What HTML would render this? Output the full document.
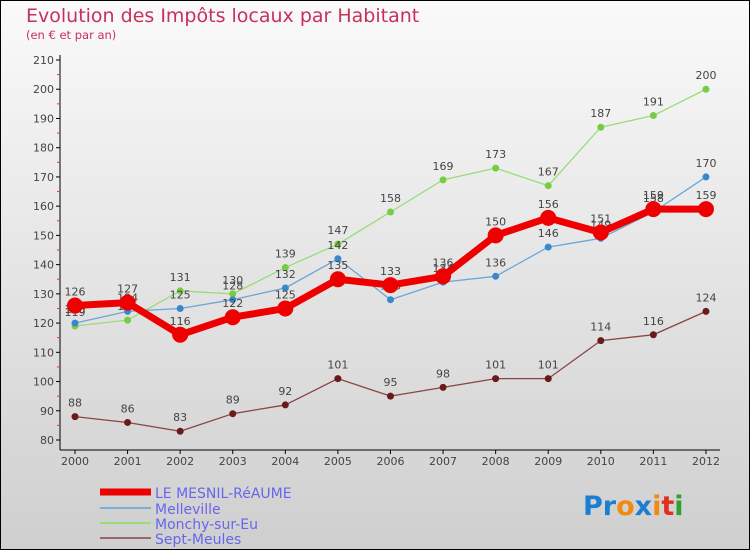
<!DOCTYPE html>
<html><head><meta charset="utf-8"><style>
body{margin:0;}
#c{width:750px;height:550px;position:relative;box-sizing:border-box;border:1px solid #000;background:linear-gradient(#fafafa,#cfcfcf);font-family:"DejaVu Sans","Liberation Sans",sans-serif;overflow:hidden}
</style></head><body>
<div id="c">
<svg id="s" width="750" height="550" style="position:absolute;left:-1px;top:-1px">
<text x="26" y="22" font-size="19" fill="#c8305a">Evolution des Impôts locaux par Habitant</text>
<text x="26" y="39" font-size="11.5" fill="#c8305a">(en € et par an)</text>
<g id="axes"></g><g id="series"></g>
<g>
<line x1="100" y1="492" x2="151" y2="492" stroke="#e00" stroke-width="7"/>
<line x1="100" y1="508" x2="151" y2="508" stroke="#7aaed6" stroke-width="2"/>
<line x1="100" y1="523" x2="151" y2="523" stroke="#99dd77" stroke-width="2"/>
<line x1="100" y1="538" x2="151" y2="538" stroke="#9a6666" stroke-width="2"/>
<text x="155" y="498" font-size="14" fill="#6666ee">LE MESNIL-RéAUME</text>
<text x="155" y="514" font-size="14" fill="#6666ee">Melleville</text>
<text x="155" y="529" font-size="14" fill="#6666ee">Monchy-sur-Eu</text>
<text x="155" y="544" font-size="14" fill="#6666ee">Sept-Meules</text>
</g>
<g font-size="27" font-weight="bold">
<text x="583" y="515"><tspan fill="#1a7fd0">Pr</tspan><tspan fill="#f08a10">o</tspan><tspan fill="#1a7fd0">x</tspan><tspan fill="#f08a10">i</tspan><tspan fill="#e03020">t</tspan><tspan fill="#30a030">i</tspan></text>
</g>
</svg>
</div>
<script>
const years=["2000","2001","2002","2003","2004","2005","2006","2007","2008","2009","2010","2011","2012"];
const mesnil=[126,127,116,122,125,135,133,136,150,156,151,159,159];
const melleville=[120,124,125,128,132,142,128,134,136,146,149,158,170];
const monchy=[119,121,131,130,139,147,158,169,173,167,187,191,200];
const septMeules=[88,86,83,89,92,101,95,98,101,101,114,116,124];
const yTicks=[80,90,100,110,120,130,140,150,160,170,180,190,200,210];
const NS="http://www.w3.org/2000/svg";
const X=i=>75+i*52.58;
const Y=v=>440-(v-80)*2.923;
function mk(tag,at,parent){const e=document.createElementNS(NS,tag);for(const k in at)e.setAttribute(k,at[k]);parent.appendChild(e);return e;}
const ax=document.getElementById('axes');
let l=mk('line',{x1:60,y1:55,x2:60,y2:450,stroke:'#000','stroke-width':1},ax);


l=mk('line',{x1:60,y1:450,x2:720,y2:450,stroke:'#000','stroke-width':1},ax);


yTicks.forEach(v=>{
 mk('line',{x1:56,y1:Y(v),x2:60,y2:Y(v),stroke:'#000'},ax);
 if(v<210) mk('line',{x1:57,y1:Y(v+5),x2:60,y2:Y(v+5),stroke:'#e33'},ax);
 const t=mk('text',{x:54,y:Y(v)+4,'font-size':11,fill:'#444','text-anchor':'end'},ax);t.textContent=v;
 
 
});
years.forEach((y,i)=>{
 mk('line',{x1:X(i),y1:450,x2:X(i),y2:454,stroke:'#000'},ax);
 const t=mk('text',{x:X(i),y:465,'font-size':11,fill:'#444','text-anchor':'middle'},ax);t.textContent=y;
 
 
});
const sg=document.getElementById('series');
function series(data,name,color,dot,w,r){
 const g=mk('g',{},sg);
 
 
 mk('polyline',{points:data.map((v,i)=>X(i)+','+Y(v)).join(' '),fill:'none',stroke:color,'stroke-width':w,'stroke-linejoin':'round'},g);
 data.forEach((v,i)=>{
  const c=mk('circle',{cx:X(i),cy:Y(v),r:r,fill:dot},g);
  
  
  const t=mk('text',{x:X(i),y:Y(v)-10,'font-size':11,fill:'#444','text-anchor':'middle'},g);t.textContent=v;
  
  
 });
}
series(septMeules,'sept-meules-line','#8a4444','#6a1a1a',1.3,3.5);
series(monchy,'monchy-line','#99dd77','#77cc44',1.3,3.5);
series(melleville,'melleville-line','#6aa6d6','#3a88cc',1.3,3.5);
series(mesnil,'mesnil-line','#ee0000','#ee0000',7,8);
</script>
</body></html>
